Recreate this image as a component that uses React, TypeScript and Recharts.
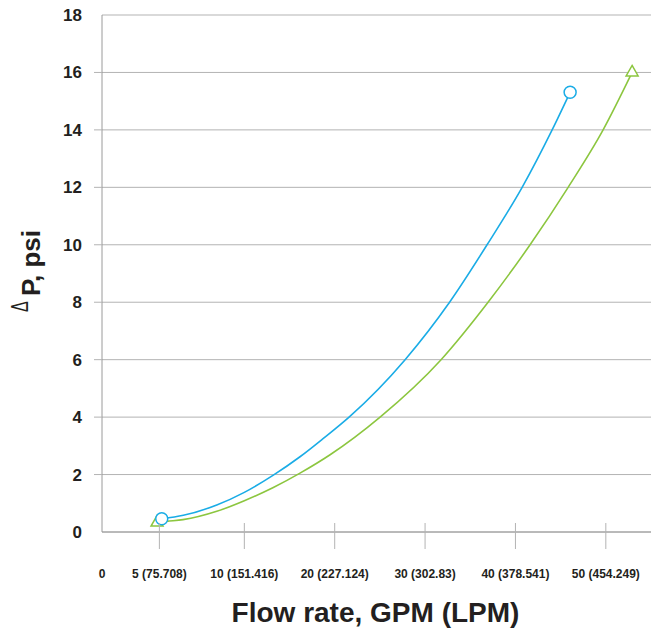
import React from 'react';
import { LineChart, Line, XAxis, YAxis, CartesianGrid } from 'recharts';

// x values are positions along the drawn axis, in GPM for the evenly spaced 10..50 part
const xTickValues = [-5.75, 0.6, 10, 20, 30, 40, 50];
const xTickLabels = ['0', '5 (75.708)', '10 (151.416)', '20 (227.124)', '30 (302.83)', '40 (378.541)', '50 (454.249)'];
const yTicks = [0, 2, 4, 6, 8, 10, 12, 14, 16, 18];

// blue curve (circle markers at the ends)
const blueX = [0.86, 3.25, 6.95, 10.0, 13.21, 16.16, 18.71, 21.59, 27.79, 32.71, 36.86, 40.74, 44.06, 46.05];
const blueY = [0.46, 0.58, 0.94, 1.38, 1.98, 2.62, 3.25, 4.0, 6.0, 8.0, 10.0, 12.0, 14.0, 15.31];

// green curve (triangle markers at the ends)
const greenX = [0.34, 1.41, 3.22, 6.95, 10.0, 13.21, 16.16, 19.49, 25.02, 31.77, 36.97, 41.62, 45.83, 49.7, 52.91];
const greenY = [0.33, 0.37, 0.43, 0.72, 1.09, 1.55, 2.05, 2.69, 4.0, 6.0, 8.0, 10.0, 12.0, 14.0, 16.0];

const blueData = blueX.map((x, i) => ({ x, y: blueY[i] }));
const greenData = greenX.map((x, i) => ({ x, y: greenY[i] }));

const BLUE = '#1aace6';
const GREEN = '#8cc63f';
const GRID = '#b3b3b3';
const AXIS = '#9a9a9a';
const INK = '#231f20';
const FONT = '"Liberation Sans", Arial, sans-serif';

const YTick = (props: any) => {
  const { x, y, payload } = props;
  const v = payload.value;
  return (
    <g>
      {v !== 0 && v !== 18 && <line x1={x + 12} x2={x + 20} y1={y} y2={y} stroke={GRID} strokeWidth={1} />}
      <text x={x} y={y} dy={6} textAnchor="end" fontFamily={FONT} fontWeight="bold" fontSize={17} fill={INK}>
        {v}
      </text>
    </g>
  );
};

const XTick = (props: any) => {
  const { x, y, payload } = props;
  const idx = xTickValues.indexOf(payload.value);
  return (
    <g>
      {idx > 0 && <line x1={x} x2={x} y1={y - 9} y2={y + 17} stroke={GRID} strokeWidth={1} />}
      <text x={x} y={y + 46} textAnchor="middle" fontFamily={FONT} fontWeight="bold" fontSize={12} fill={INK}>
        {xTickLabels[idx]}
      </text>
    </g>
  );
};

const circleDot = (last: number) => (props: any) => {
  const { cx, cy, index } = props;
  if (index !== 0 && index !== last) return <g key={`c${index}`} />;
  return <circle key={`c${index}`} cx={cx} cy={cy} r={6} fill="#fff" stroke={BLUE} strokeWidth={1.5} />;
};

const triangleDot = (last: number) => (props: any) => {
  const { cx, cy, index } = props;
  if (index !== 0 && index !== last) return <g key={`t${index}`} />;
  const pts = `${cx},${cy - 7} ${cx + 6},${cy + 3.5} ${cx - 6},${cy + 3.5}`;
  return <polygon key={`t${index}`} points={pts} fill="#fff" stroke={GREEN} strokeWidth={1.5} />;
};

const XTitle = (props: any) => {
  const vb = props.viewBox;
  return (
    <text x={vb.x + vb.width / 2 - 1} y={622} textAnchor="middle" fontFamily={FONT} fontWeight="bold" fontSize={28} fill={INK}>
      Flow rate, GPM (LPM)
    </text>
  );
};

const YTitle = () => (
  <g>
    <text transform="translate(28, 312) rotate(-90) scale(1, 1.5)" fontFamily={FONT} fontSize={16} fill={INK}>
      Δ
    </text>
    <text transform="translate(40, 296) rotate(-90)" fontFamily={FONT} fontWeight="bold" fontSize={26} fill={INK}>
      P, psi
    </text>
  </g>
);

export default function App() {
  return (
    <div style={{ position: 'absolute', left: 0, top: 0, width: 651, height: 628 }}>
      <LineChart width={651} height={628} margin={{ top: 15, right: 0, bottom: 0, left: 0 }}>
        <CartesianGrid horizontal vertical={false} stroke={GRID} strokeWidth={1} />
        <XAxis
          type="number"
          dataKey="x"
          domain={[-5.75, 55]}
          ticks={xTickValues}
          allowDataOverflow
          height={96}
          tickSize={0}
          tickMargin={0}
          tickLine={false}
          axisLine={{ stroke: AXIS, strokeWidth: 1 }}
          tick={<XTick />}
          interval={0}
          label={<XTitle />}
        />
        <YAxis
          type="number"
          domain={[0, 18]}
          ticks={yTicks}
          width={102}
          tickSize={8}
          tickMargin={12}
          tickLine={false}
          axisLine={{ stroke: AXIS, strokeWidth: 1 }}
          tick={<YTick />}
          interval={0}
          label={<YTitle />}
        />
        <Line
          data={greenData}
          dataKey="y"
          type="monotone"
          stroke={GREEN}
          strokeWidth={1.6}
          dot={triangleDot(greenData.length - 1)}
          activeDot={false}
          isAnimationActive={false}
        />
        <Line
          data={blueData}
          dataKey="y"
          type="monotone"
          stroke={BLUE}
          strokeWidth={1.6}
          dot={circleDot(blueData.length - 1)}
          activeDot={false}
          isAnimationActive={false}
        />
      </LineChart>
    </div>
  );
}
